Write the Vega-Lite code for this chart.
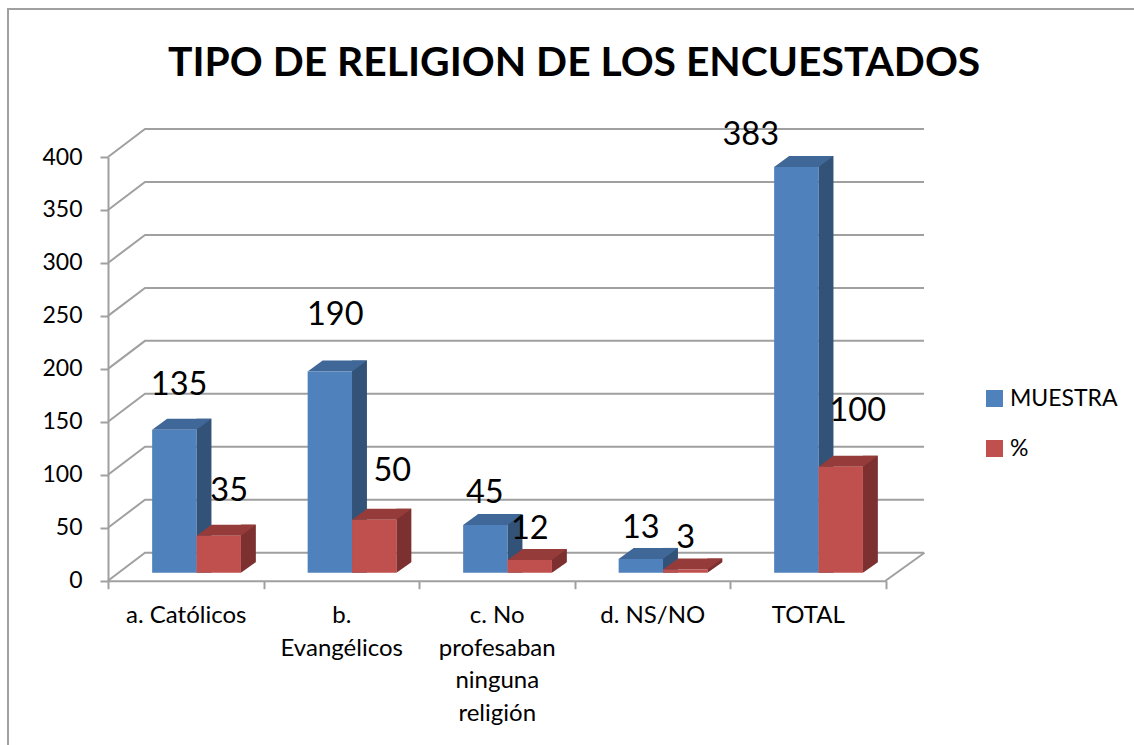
{
"$schema":"https://vega.github.io/schema/vega-lite/v6.json",
"width":1136,"height":746,
"autosize":"none",
"padding":{"left":8,"top":9,"right":-10,"bottom":-10},
"background":"white",
"title":{"text":"TIPO DE RELIGION DE LOS ENCUESTADOS","font":"Lato","fontSize":40.8,"fontWeight":"bold","color":"#000000","anchor":"start","frame":"group","dx":160,"offset":-117,"baseline":"bottom"},
"config":{"view":{"stroke":"#a0a0a0","strokeWidth":2},"font":"Lato"},
"data":{"values":[
{"categoria":"a. Católicos","serie":"MUESTRA","valor":135},
{"categoria":"a. Católicos","serie":"%","valor":35},
{"categoria":"b. Evangélicos","serie":"MUESTRA","valor":190},
{"categoria":"b. Evangélicos","serie":"%","valor":50},
{"categoria":"c. No profesaban ninguna religión","serie":"MUESTRA","valor":45},
{"categoria":"c. No profesaban ninguna religión","serie":"%","valor":12},
{"categoria":"d. NS/NO","serie":"MUESTRA","valor":13},
{"categoria":"d. NS/NO","serie":"%","valor":3},
{"categoria":"TOTAL","serie":"MUESTRA","valor":383},
{"categoria":"TOTAL","serie":"%","valor":100}
]},
"encoding":{
"x":{"field":"categoria","type":"nominal","title":null,
 "scale":{"domain":["a. Católicos","b. Evangélicos","c. No profesaban ninguna religión","d. NS/NO","TOTAL"],"range":[100,877.5],"paddingInner":0,"paddingOuter":0},
 "axis":{"orient":"bottom","offset":-174.3,"labelAngle":0,"tickBand":"extent","grid":false,"domainColor":"#a0a0a0","domainWidth":2,"tickColor":"#a0a0a0","tickWidth":2,"tickSize":8,"labelFont":"Lato","labelFontSize":24,"labelColor":"#000000","labelPadding":15,"labelLimit":300,"labelLineHeight":32.5,"labelBaseline":"top",
 "labelExpr":"datum.label=='b. Evangélicos'?['b.','Evangélicos']:datum.label=='c. No profesaban ninguna religión'?['c. No','profesaban','ninguna','religión']:datum.label"}},
"y":{"field":"valor","type":"quantitative","title":null,
 "scale":{"domain":[0,400],"range":[571.7,148],"nice":false,"zero":false},
 "axis":{"orient":"left","offset":-100,"values":[0,50,100,150,200,250,300,350,400],"grid":false,"domainColor":"#a0a0a0","domainWidth":2,"tickColor":"#a0a0a0","tickWidth":2,"tickSize":8,"labelFont":"Lato","labelFontSize":23,"labelColor":"#000000","labelPadding":18}}
},
"layer":[
{"data":{"values":[{"categoria":"a. Católicos","valor":0},{"categoria":"a. Católicos","valor":50},{"categoria":"a. Católicos","valor":100},{"categoria":"a. Católicos","valor":150},{"categoria":"a. Católicos","valor":200},{"categoria":"a. Católicos","valor":250},{"categoria":"a. Católicos","valor":300},{"categoria":"a. Católicos","valor":350},{"categoria":"a. Católicos","valor":400}]},
 "mark":{"type":"point","shape":"M0,0L37,-28L816,-28","size":4,"filled":false,"stroke":"#a0a0a0","strokeWidth":2,"opacity":1,"xOffset":-77.75}},
{"data":{"values":[{"categoria":"TOTAL","valor":0}]},
 "mark":{"type":"point","shape":"M0,0L39,-28","size":4,"filled":false,"stroke":"#a0a0a0","strokeWidth":2,"opacity":1,"xOffset":77.75}},

{"transform":[{"filter":"datum.serie=='MUESTRA'"}],"mark":{"type":"bar","width":15,"fill":"#335278","xOffset":18.2,"yOffset":-19,"y2Offset":-8},"encoding":{"y2":{"datum":0}}},
{"transform":[{"filter":"datum.serie=='MUESTRA'"}],"mark":{"type":"point","shape":"M-22.2,0L22.2,0L37.2,-11L-7.2,-11Z","size":4,"filled":true,"fill":"#3f6797","strokeWidth":0,"opacity":1,"xOffset":-11.4,"yOffset":-8}},
{"transform":[{"filter":"datum.serie=='MUESTRA'"}],"mark":{"type":"bar","width":44.4,"xOffset":-11.4,"yOffset":-8,"y2Offset":-8},
 "encoding":{"y2":{"datum":0},"color":{"field":"serie","type":"nominal","title":null,"scale":{"domain":["MUESTRA","%"],"range":["#4f81bd","#c0504d"]},
 "legend":{"orient":"none","legendX":975,"legendY":378,"symbolType":"square","symbolSize":289,"symbolStrokeWidth":0,"labelFont":"Lato","labelFontSize":23,"labelColor":"#000000","labelOffset":4,"rowPadding":26,"symbolOpacity":1}}}},

{"transform":[{"filter":"datum.serie=='%'"}],"mark":{"type":"bar","width":15,"fill":"#7c302f","xOffset":62.6,"yOffset":-19,"y2Offset":-8},"encoding":{"y2":{"datum":0}}},
{"transform":[{"filter":"datum.serie=='%'"}],"mark":{"type":"point","shape":"M0,0L0,2L17,2L17,-12Z","size":4,"filled":true,"fill":"#ffffff","strokeWidth":0,"opacity":1,"xOffset":55.2,"yOffset":-8},"encoding":{"y":{"datum":0}}},
{"transform":[{"filter":"datum.serie=='%'"}],"mark":{"type":"point","shape":"M-22.2,0L22.2,0L37.2,-11L-7.2,-11Z","size":4,"filled":true,"fill":"#953c3b","strokeWidth":0,"opacity":1,"xOffset":33,"yOffset":-8}},
{"transform":[{"filter":"datum.serie=='%'"}],"mark":{"type":"bar","width":44.4,"xOffset":33,"yOffset":-8,"y2Offset":-8},
 "encoding":{"y2":{"datum":0},"color":{"field":"serie","type":"nominal","title":null}}},

{"transform":[{"filter":"datum.valor==135"}],"mark":{"type":"text","font":"Lato","fontSize":32.5,"color":"#000","baseline":"middle","xOffset":-6.6,"yOffset":-52.6},"encoding":{"text":{"field":"valor"}}},
{"transform":[{"filter":"datum.valor==35"}],"mark":{"type":"text","font":"Lato","fontSize":32.5,"color":"#000","baseline":"middle","xOffset":43.4,"yOffset":-52.6},"encoding":{"text":{"field":"valor"}}},
{"transform":[{"filter":"datum.valor==190"}],"mark":{"type":"text","font":"Lato","fontSize":32.5,"color":"#000","baseline":"middle","xOffset":-6,"yOffset":-64},"encoding":{"text":{"field":"valor"}}},
{"transform":[{"filter":"datum.valor==50"}],"mark":{"type":"text","font":"Lato","fontSize":32.5,"color":"#000","baseline":"middle","xOffset":51,"yOffset":-56.7},"encoding":{"text":{"field":"valor"}}},
{"transform":[{"filter":"datum.valor==45"}],"mark":{"type":"text","font":"Lato","fontSize":32.5,"color":"#000","baseline":"middle","xOffset":-12,"yOffset":-40},"encoding":{"text":{"field":"valor"}}},
{"transform":[{"filter":"datum.valor==12"}],"mark":{"type":"text","font":"Lato","fontSize":32.5,"color":"#000","baseline":"middle","xOffset":33,"yOffset":-39},"encoding":{"text":{"field":"valor"}}},
{"transform":[{"filter":"datum.valor==13"}],"mark":{"type":"text","font":"Lato","fontSize":32.5,"color":"#000","baseline":"middle","xOffset":-11.5,"yOffset":-39},"encoding":{"text":{"field":"valor"}}},
{"transform":[{"filter":"datum.valor==3"}],"mark":{"type":"text","font":"Lato","fontSize":32.5,"color":"#000","baseline":"middle","xOffset":33.5,"yOffset":-39.5},"encoding":{"text":{"field":"valor"}}},
{"transform":[{"filter":"datum.valor==383"}],"mark":{"type":"text","font":"Lato","fontSize":32.5,"color":"#000","baseline":"middle","xOffset":-57,"yOffset":-39.7},"encoding":{"text":{"field":"valor"}}},
{"transform":[{"filter":"datum.valor==100"}],"mark":{"type":"text","font":"Lato","fontSize":32.5,"color":"#000","baseline":"middle","xOffset":50,"yOffset":-63.7},"encoding":{"text":{"field":"valor"}}}
]
}
